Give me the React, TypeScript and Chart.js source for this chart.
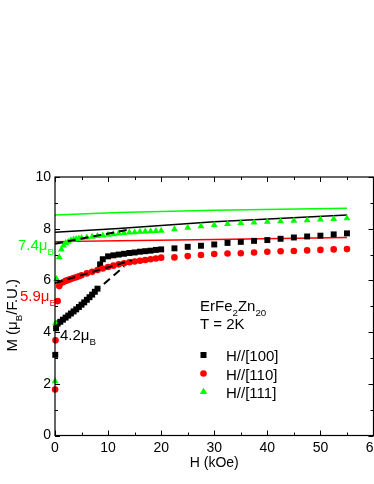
import { useEffect, useRef } from 'react';
import { Chart, registerables } from 'chart.js';

Chart.register(...registerables);

const FONT = '"Liberation Sans", Arial, Helvetica, sans-serif';
const GREEN = '#00ff00';
const RED = '#ff0000';
const BLACK = '#000000';

// ---- data (H in kOe, M in muB/F.U.) ----
const H100 = [0.05, 0.2, 0.5, 1, 1.5, 2, 2.5, 3, 3.5, 4, 4.5, 5, 5.5, 6, 6.5, 7, 7.5, 8, 8.5, 9, 10, 11, 12, 13, 14, 15, 16, 17, 18, 19, 20, 22.5, 25, 27.5, 30, 32.5, 35, 37.5, 40, 42.5, 45, 47.5, 50, 52.5, 55];
const M100 = [3.12, 4.15, 4.33, 4.40, 4.48, 4.56, 4.64, 4.72, 4.80, 4.88, 4.97, 5.06, 5.15, 5.25, 5.35, 5.45, 5.56, 5.68, 6.62, 6.82, 6.93, 6.97, 7.00, 7.03, 7.06, 7.08, 7.11, 7.13, 7.15, 7.18, 7.20, 7.24, 7.30, 7.34, 7.39, 7.45, 7.49, 7.53, 7.56, 7.61, 7.66, 7.70, 7.73, 7.78, 7.82];

const H110 = [0.02, 0.1, 0.5, 0.8, 1, 1.5, 2, 2.5, 3, 3.5, 4, 4.5, 5, 6, 7, 8, 9, 10, 11, 12, 13, 14, 15, 16, 17, 18, 19, 20, 22.5, 25, 27.5, 30, 32.5, 35, 37.5, 40, 42.5, 45, 47.5, 50, 52.5, 55];
const M110 = [1.78, 3.68, 5.2, 5.78, 5.88, 5.93, 5.98, 6.02, 6.05, 6.09, 6.12, 6.16, 6.2, 6.27, 6.33, 6.4, 6.46, 6.52, 6.57, 6.62, 6.66, 6.70, 6.73, 6.76, 6.79, 6.82, 6.85, 6.88, 6.89, 6.94, 6.98, 7.02, 7.04, 7.05, 7.08, 7.11, 7.13, 7.14, 7.16, 7.18, 7.20, 7.21];

const H111 = [0.02, 0.1, 0.3, 0.8, 1.2, 1.6, 2, 2.5, 3, 3.5, 4, 4.5, 5, 6, 7, 8, 9, 10, 11, 12, 13, 14, 15, 16, 17, 18, 19, 20, 22.5, 25, 27.5, 30, 32.5, 35, 37.5, 40, 42.5, 45, 47.5, 50, 52.5, 55];
const M111 = [2.1, 4.34, 6.05, 6.9, 7.2, 7.35, 7.45, 7.5, 7.55, 7.58, 7.6, 7.62, 7.64, 7.66, 7.69, 7.72, 7.74, 7.77, 7.79, 7.81, 7.83, 7.85, 7.86, 7.88, 7.89, 7.9, 7.91, 7.92, 7.98, 8.04, 8.09, 8.14, 8.18, 8.22, 8.24, 8.27, 8.29, 8.31, 8.33, 8.36, 8.38, 8.40];

// theoretical curves (solid)
const thH = [0, 12, 30, 55];
const th100 = [7.86, 8.01, 8.27, 8.53];
const th110 = [7.50, 7.53, 7.58, 7.66];
const th111 = [8.53, 8.63, 8.71, 8.79];

// low-field linear extrapolations (dashed)
const fit100H = [0, 13];
const fit100M = [4.2, 6.54];
const fit110H = [0, 14.5];
const fit110M = [5.9, 6.78];
const fit111H = [0, 14];
const fit111M = [7.42, 7.97];

// axes
const xTickValues = [0, 10, 20, 30, 40, 50, 60];
const xMinorTicks = [5, 15, 25, 35, 45, 55];
const yTickValues = [0, 2, 4, 6, 8, 10];
const yMinorTicks = [1, 3, 5, 7, 9];

const legendLabels = ['H//[100]', 'H//[110]', 'H//[111]'];

const pts = (xs: number[], ys: number[]) => xs.map((x, i) => ({ x, y: ys[i] }));

type Part = { t: string; sub?: boolean };

function drawRich(ctx: CanvasRenderingContext2D, parts: Part[], x: number, y: number, size: number, color: string, align: 'left' | 'center') {
  const mainF = `${size}px ${FONT}`;
  const subF = `${size * 0.65}px ${FONT}`;
  let w = 0;
  for (const p of parts) {
    ctx.font = p.sub ? subF : mainF;
    w += ctx.measureText(p.t).width;
  }
  let cx = align === 'center' ? x - w / 2 : x;
  ctx.fillStyle = color;
  ctx.textAlign = 'left';
  ctx.textBaseline = 'alphabetic';
  for (const p of parts) {
    ctx.font = p.sub ? subF : mainF;
    ctx.fillText(p.t, cx, y + (p.sub ? size * 0.3 : 0));
    cx += ctx.measureText(p.t).width;
  }
}

const framePlugin = {
  id: 'frameTicks',
  afterDatasetsDraw(chart: any) {
    const { ctx, chartArea: a, scales } = chart;
    const x = scales.x;
    const y = scales.y;
    ctx.save();
    ctx.strokeStyle = BLACK;
    ctx.lineWidth = 1.2;
    ctx.strokeRect(a.left, a.top, a.right - a.left, a.bottom - a.top);
    ctx.lineWidth = 1;
    const xt = (v: number, len: number) => {
      const px = Math.round(x.getPixelForValue(v)) + 0.5;
      ctx.beginPath();
      ctx.moveTo(px, a.bottom);
      ctx.lineTo(px, a.bottom - len);
      ctx.moveTo(px, a.top);
      ctx.lineTo(px, a.top + len);
      ctx.stroke();
    };
    const yt = (v: number, len: number) => {
      const py = Math.round(y.getPixelForValue(v)) + 0.5;
      ctx.beginPath();
      ctx.moveTo(a.left, py);
      ctx.lineTo(a.left + len, py);
      ctx.moveTo(a.right, py);
      ctx.lineTo(a.right - len, py);
      ctx.stroke();
    };
    xTickValues.forEach((v) => xt(v, 5));
    xMinorTicks.forEach((v) => xt(v, 3));
    yTickValues.forEach((v) => yt(v, 5));
    yMinorTicks.forEach((v) => yt(v, 3));
    ctx.restore();
  },
  afterDraw(chart: any) {
    const { ctx, chartArea: a } = chart;
    ctx.save();
    // y-axis title (rotated)
    ctx.save();
    ctx.translate(17, (a.top + a.bottom) / 2 + 9);
    ctx.rotate(-Math.PI / 2);
    drawRich(ctx, [{ t: 'M (μ' }, { t: 'B', sub: true }, { t: '/F.U.)' }], 0, 0, 15, BLACK, 'center');
    ctx.restore();

    // saturation labels
    drawRich(ctx, [{ t: '7.4μ' }, { t: 'B', sub: true }], 18, 250, 15, GREEN, 'left');
    drawRich(ctx, [{ t: '5.9μ' }, { t: 'B', sub: true }], 20, 301, 15, RED, 'left');
    drawRich(ctx, [{ t: '4.2μ' }, { t: 'B', sub: true }], 60, 340, 15, BLACK, 'left');

    // compound / temperature
    drawRich(ctx, [{ t: 'ErFe' }, { t: '2', sub: true }, { t: 'Zn' }, { t: '20', sub: true }], 200, 311, 15, BLACK, 'left');
    drawRich(ctx, [{ t: 'T = 2K' }], 200, 329, 15, BLACK, 'left');

    // legend
    const lx = 203.5;
    const ly = [355, 373.5, 391.5];
    ctx.fillStyle = BLACK;
    ctx.fillRect(lx - 3, ly[0] - 3, 6, 6);
    ctx.fillStyle = RED;
    ctx.beginPath();
    ctx.arc(lx, ly[1], 3.3, 0, Math.PI * 2);
    ctx.fill();
    ctx.fillStyle = GREEN;
    ctx.beginPath();
    ctx.moveTo(lx, ly[2] - 4);
    ctx.lineTo(lx + 3.6, ly[2] + 2.4);
    ctx.lineTo(lx - 3.6, ly[2] + 2.4);
    ctx.closePath();
    ctx.fill();
    legendLabels.forEach((t, i) => drawRich(ctx, [{ t }], 226, ly[i] + 6, 15, BLACK, 'left'));
    ctx.restore();
  },
};

export default function App() {
  const ref = useRef<HTMLCanvasElement | null>(null);

  useEffect(() => {
    if (!ref.current) return;
    const lineDs = (xs: number[], ys: number[], color: string, dashed: boolean, order: number) => ({
      data: pts(xs, ys),
      showLine: true,
      borderColor: color,
      backgroundColor: color,
      borderWidth: dashed ? 2 : 1.5,
      borderDash: dashed ? [8, 5] : [],
      pointRadius: 0,
      pointHoverRadius: 0,
      clip: false as any,
      order,
    });
    const markDs = (xs: number[], ys: number[], color: string, style: string, r: number, order: number) => ({
      data: pts(xs, ys),
      showLine: false,
      pointStyle: style,
      pointRadius: r,
      pointHoverRadius: r,
      borderWidth: 0,
      backgroundColor: color,
      borderColor: color,
      clip: false as any,
      order,
    });

    const chart = new Chart(ref.current, {
      type: 'scatter',
      data: {
        datasets: [
          lineDs(fit100H, fit100M, BLACK, true, 0),
          lineDs(fit110H, fit110M, BLACK, true, 0),
          lineDs(fit111H, fit111M, BLACK, true, 0),
          markDs(H111, M111, GREEN, 'triangle', 4, 1),
          markDs(H110, M110, RED, 'circle', 3.3, 2),
          markDs(H100, M100, BLACK, 'rect', 4.2, 3),
          lineDs(thH, th111, GREEN, false, 4),
          lineDs(thH, th100, BLACK, false, 4),
          lineDs(thH, th110, RED, false, 4),
        ] as any,
      },
      options: {
        responsive: false,
        maintainAspectRatio: false,
        animation: false,
        devicePixelRatio: 1,
        layout: { padding: { top: 177, right: 4.5, left: 0, bottom: 0 } },
        plugins: { legend: { display: false }, tooltip: { enabled: false } },
        events: [],
        scales: {
          x: {
            type: 'linear',
            min: 0,
            max: 60,
            grid: { display: false, drawTicks: false },
            border: { display: false },
            afterBuildTicks: (s: any) => {
              s.ticks = xTickValues.map((v) => ({ value: v }));
            },
            afterFit: (s: any) => {
              s.height = 48.5;
              s.paddingLeft = 0;
              s.paddingRight = 0;
            },
            ticks: {
              color: BLACK,
              padding: 4,
              maxRotation: 0,
              autoSkip: false,
              font: { family: FONT, size: 14 },
            },
            title: {
              display: true,
              text: 'H (kOe)',
              color: BLACK,
              font: { family: FONT, size: 14 },
              padding: { top: 0, bottom: 12 },
            },
          },
          y: {
            type: 'linear',
            min: 0,
            max: 10,
            grid: { display: false, drawTicks: false },
            border: { display: false },
            afterBuildTicks: (s: any) => {
              s.ticks = yTickValues.map((v) => ({ value: v }));
            },
            afterFit: (s: any) => {
              s.width = 55;
              s.paddingTop = 0;
              s.paddingBottom = 0;
            },
            ticks: {
              color: BLACK,
              padding: 4,
              autoSkip: false,
              font: { family: FONT, size: 14 },
            },
          },
        },
      },
      plugins: [framePlugin as any],
    });
    return () => chart.destroy();
  }, []);

  return (
    <div style={{ position: 'absolute', left: 0, top: 0, width: 374, height: 484, overflow: 'hidden', background: '#fff' }}>
      <canvas ref={ref} width={378} height={484} style={{ display: 'block', width: 378, height: 484 }} />
    </div>
  );
}
